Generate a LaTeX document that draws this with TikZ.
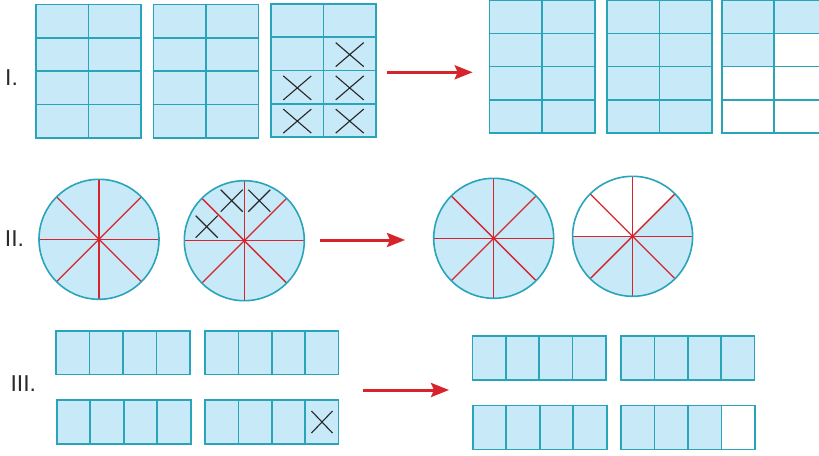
\documentclass[tikz,border=0pt]{standalone}
\usepackage{fontspec}
\setmainfont{Liberation Sans}
\usetikzlibrary{arrows.meta}
\definecolor{cfill}{HTML}{C8E9F8}
\definecolor{cline}{HTML}{2AA4B9}
\definecolor{cred}{HTML}{D7232B}
\definecolor{ctext}{HTML}{2B2B2B}
\tikzset{
  cellbox/.style={draw=cline, fill=cfill, line width=1.6pt},
  whitebox/.style={draw=cline, fill=white, line width=1.6pt},
  crossline/.style={draw=black!85, line width=1.1pt},
  disk/.style={fill=cfill},
  rim/.style={draw=cline, line width=1.6pt},
  spoke/.style={draw=cred, line width=1.3pt},
  bigarrow/.style={draw=cred, line width=3pt, -{Stealth[length=18pt, width=14pt, inset=3pt]}},
  rowlabel/.style={font=\fontsize{23}{23}\selectfont, text=ctext, anchor=base west, inner sep=0pt}
}
\newcommand{\mygrid}[6]{%
  \foreach \c in {1,...,#3}{\foreach \r in {1,...,#4}{%
    \draw[cellbox] ({#1+(\c-1)*#5},{#2+(\r-1)*#6}) rectangle ++(#5,#6);}}}
\newcommand{\mywhite}[4]{\draw[whitebox] (#1,#2) rectangle ++(#3,#4);}
\newcommand{\mycross}[4]{\draw[crossline] ({#1-#3},{#2-#4}) -- ({#1+#3},{#2+#4}) ({#1-#3},{#2+#4}) -- ({#1+#3},{#2-#4});}
\newcommand{\mydisk}[2]{%
  \fill[disk] (#1) circle[radius=#2];
  \foreach \a in {0,45,90,135}{\draw[spoke] (#1) ++(\a:#2) -- ++(\a+180:{2*#2});}
  \draw[rim] (#1) circle[radius=#2];}
\begin{document}
\begin{tikzpicture}[x=1pt,y=-1pt]
\useasboundingbox (0,0) rectangle (819,455);

% ---------- Row I ----------
\node[rowlabel] (lab1) at (5,85) {I.};
\mygrid{36}{4.3}{2}{4}{52.35}{33.4}
\mygrid{153.3}{4.3}{2}{4}{52.5}{33.4}
\mygrid{271}{4}{2}{4}{52.5}{33.25}
\mycross{349.7}{54.6}{14}{12}
\mycross{297.3}{87.9}{14}{12}
\mycross{349.7}{87.9}{14}{12}
\mycross{297.3}{121.1}{14}{12}
\mycross{349.7}{121.1}{14}{12}

\coordinate (a1s) at (386.7,72.3);
\coordinate (a1e) at (472.7,72.3);
\draw[bigarrow] (a1s) -- (a1e);

\mygrid{489.3}{0}{2}{4}{52.7}{33.3}
\mygrid{607}{0}{2}{4}{52.5}{33.3}
\mygrid{721.7}{0}{2}{4}{52.3}{33.3}
\mywhite{774}{33.3}{52.3}{33.3}
\mywhite{721.7}{66.6}{52.3}{33.3}
\mywhite{774}{66.6}{52.3}{33.3}
\mywhite{721.7}{99.9}{52.3}{33.3}
\mywhite{774}{99.9}{52.3}{33.3}

% ---------- Row II ----------
\node[rowlabel] (lab2) at (4.7,246.7) {II.};
\coordinate (c1) at (99,239.3);
\coordinate (c2) at (244.3,240.7);
\coordinate (c3) at (493.7,238.3);
\coordinate (c4) at (632.6,236.3);
\mydisk{c1}{60}
\mydisk{c2}{60}
\mycross{206.7}{226.7}{11}{11}
\mycross{231.7}{200.7}{11}{11}
\mycross{259.3}{200.7}{11}{11}

\coordinate (a2s) at (320,240);
\coordinate (a2e) at (405,240);
\draw[bigarrow] (a2s) -- (a2e);

\mydisk{c3}{60}
% partly shaded disk
\fill[disk] (c4) -- ++(-45:60) arc[start angle=-45, end angle=180, radius=60] -- cycle;
\foreach \a in {0,45,90,135}{\draw[spoke] (c4) ++(\a:60) -- ++(\a+180:120);}
\draw[rim] (c4) circle[radius=60];

% ---------- Row III ----------
\node[rowlabel] (lab3) at (10.3,391.7) {III.};
\mygrid{56}{330.7}{4}{1}{33.5}{43.6}
\mygrid{205}{330.7}{4}{1}{33.4}{43.6}
\mygrid{56.7}{400}{4}{1}{33.5}{44}
\mygrid{205}{400}{4}{1}{33.4}{44}
\mycross{322}{422}{10.5}{11}

\coordinate (a3s) at (363.3,390);
\coordinate (a3e) at (449,390);
\draw[bigarrow] (a3s) -- (a3e);

\mygrid{472.3}{336}{4}{1}{33.4}{44}
\mygrid{621}{335.7}{4}{1}{33.4}{44}
\mygrid{472.7}{405.3}{4}{1}{33.5}{44}
\mygrid{621}{405.3}{4}{1}{33.5}{44}
\mywhite{721.5}{405.3}{33.5}{44}
\end{tikzpicture}
\end{document}
